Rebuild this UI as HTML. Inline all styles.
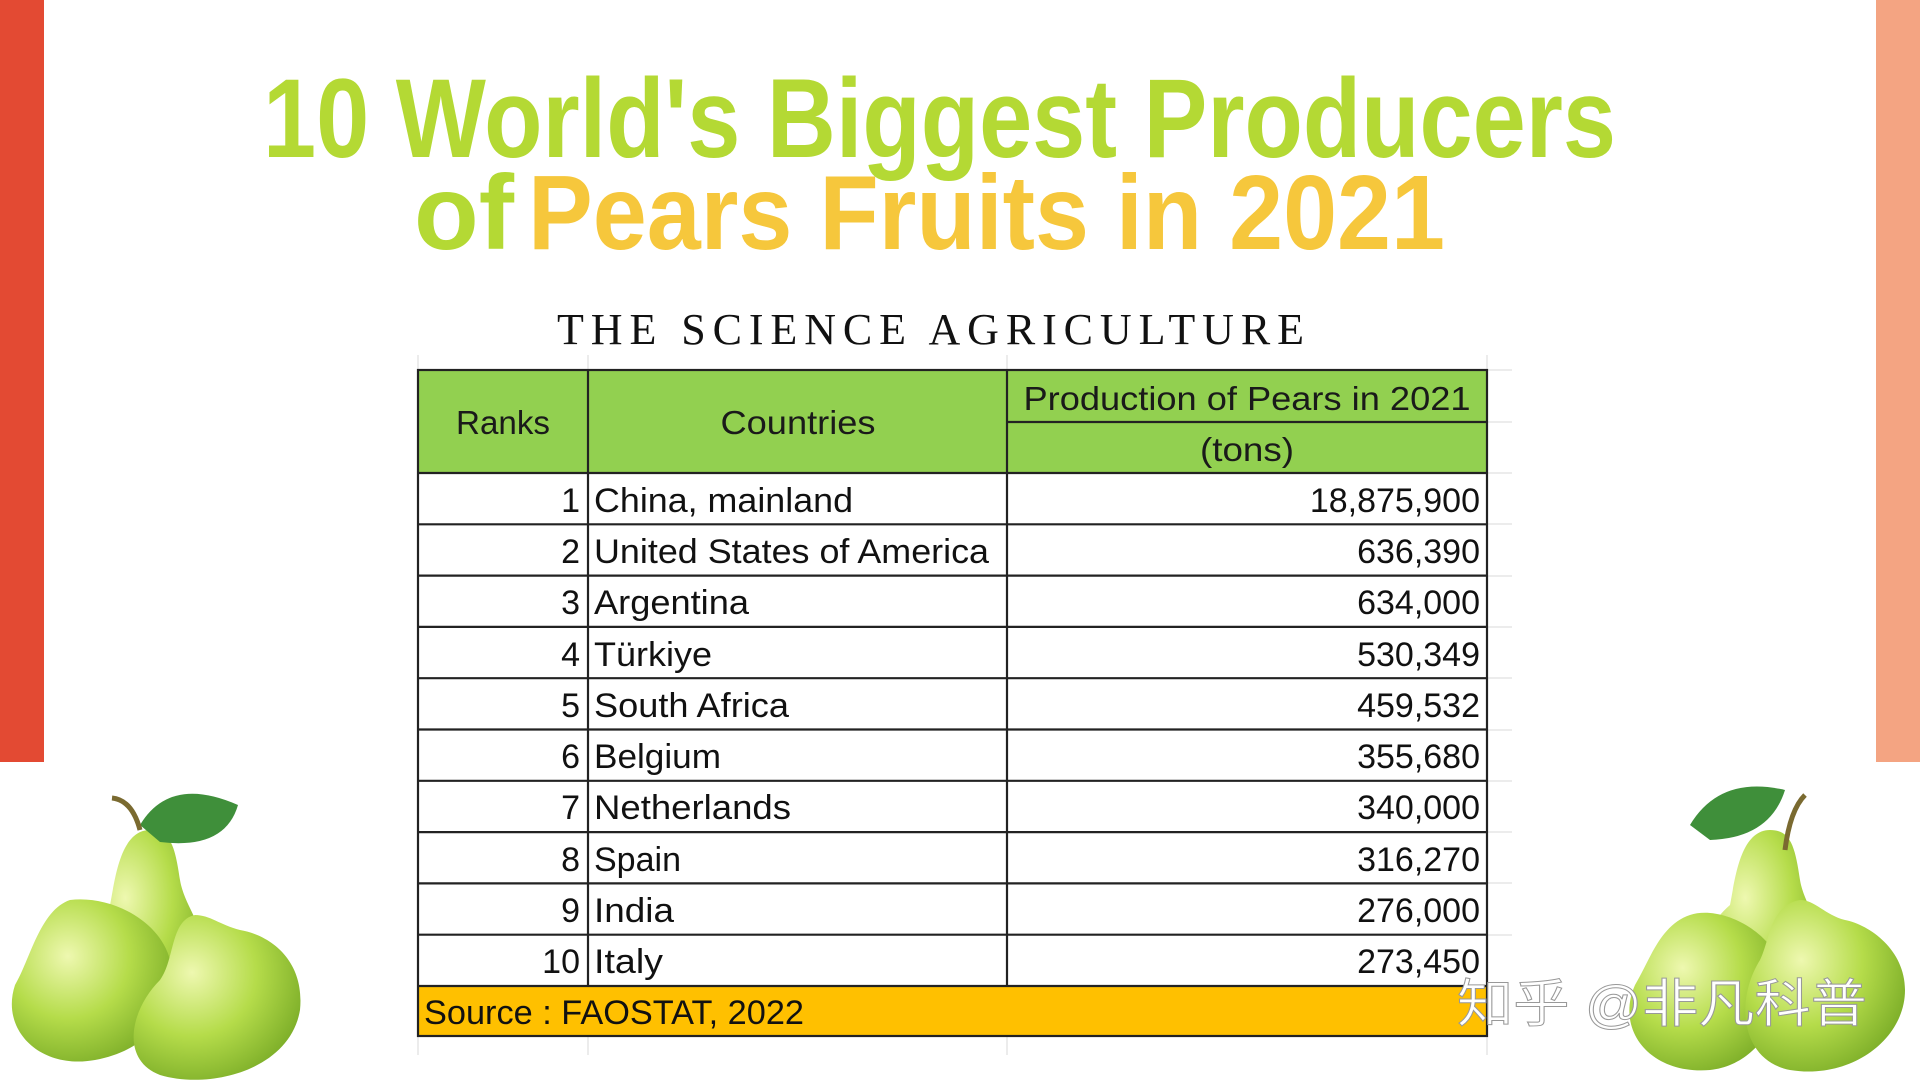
<!DOCTYPE html>
<html><head><meta charset="utf-8"><style>
html,body{margin:0;padding:0;background:#fff;width:1920px;height:1080px;overflow:hidden}
svg{display:block}
</style></head><body>
<svg width="1920" height="1080" viewBox="0 0 1920 1080" xmlns="http://www.w3.org/2000/svg">
<defs>
<radialGradient id="pg" cx="0.35" cy="0.35" r="0.7">
<stop offset="0" stop-color="#eef8b0"/><stop offset="0.55" stop-color="#b5dc4a"/><stop offset="1" stop-color="#7fb02a"/>
</radialGradient>
</defs>
<rect x="0" y="0" width="44" height="762" fill="#e34a33"/>
<rect x="1876" y="0" width="44" height="762" fill="#f4a482"/>

<g font-family="Liberation Sans, sans-serif" font-weight="bold">
<text x="263" y="157" font-size="112" fill="#b4d934" textLength="1353" lengthAdjust="spacingAndGlyphs">10 World's Biggest Producers</text>
<text x="414" y="249" font-size="106" fill="#b4d934" textLength="100" lengthAdjust="spacingAndGlyphs">of</text>
<text x="528" y="249" font-size="106" fill="#f6c73c" textLength="917" lengthAdjust="spacingAndGlyphs">Pears Fruits in 2021</text>
</g>
<text x="557" y="344" font-family="Liberation Serif, serif" font-size="44" fill="#111" textLength="747" lengthAdjust="spacing">THE SCIENCE AGRICULTURE</text>

<!-- faint grid -->
<g stroke="#e6e6e6" stroke-width="1.5">
<line x1="418" y1="355" x2="418" y2="1055"/><line x1="588" y1="355" x2="588" y2="1055"/><line x1="1007" y1="355" x2="1007" y2="1055"/><line x1="1487" y1="355" x2="1487" y2="1055"/>
<line x1="418" y1="370" x2="1512" y2="370"/><line x1="1487" y1="422" x2="1512" y2="422"/>
<line x1="1487" y1="473" x2="1512" y2="473"/><line x1="1487" y1="524" x2="1512" y2="524"/><line x1="1487" y1="576" x2="1512" y2="576"/><line x1="1487" y1="627" x2="1512" y2="627"/><line x1="1487" y1="678" x2="1512" y2="678"/><line x1="1487" y1="730" x2="1512" y2="730"/><line x1="1487" y1="781" x2="1512" y2="781"/><line x1="1487" y1="832" x2="1512" y2="832"/><line x1="1487" y1="883" x2="1512" y2="883"/><line x1="1487" y1="935" x2="1512" y2="935"/>
</g>
<rect x="418" y="370" width="1069" height="103" fill="#92d050"/>
<rect x="418" y="986" width="1069" height="50" fill="#ffc000"/>
<g stroke="#222" stroke-width="2.2" fill="none">
<rect x="418" y="370" width="1069" height="666"/>
<line x1="588" y1="370" x2="588" y2="986"/>
<line x1="1007" y1="370" x2="1007" y2="986"/>
<line x1="1007" y1="422" x2="1487" y2="422"/>
<line x1="418" y1="473" x2="1487" y2="473"/>
<line x1="418" y1="524.3" x2="1487" y2="524.3"/>
<line x1="418" y1="575.6" x2="1487" y2="575.6"/>
<line x1="418" y1="626.9" x2="1487" y2="626.9"/>
<line x1="418" y1="678.2" x2="1487" y2="678.2"/>
<line x1="418" y1="729.5" x2="1487" y2="729.5"/>
<line x1="418" y1="780.8" x2="1487" y2="780.8"/>
<line x1="418" y1="832.1" x2="1487" y2="832.1"/>
<line x1="418" y1="883.4" x2="1487" y2="883.4"/>
<line x1="418" y1="934.7" x2="1487" y2="934.7"/>
<line x1="418" y1="986" x2="1487" y2="986"/>
</g>
<g font-family="Liberation Sans, sans-serif" font-size="33" fill="#1a1a1a">
<text x="503" y="434" text-anchor="middle" textLength="94" lengthAdjust="spacingAndGlyphs">Ranks</text>
<text x="798" y="434" text-anchor="middle" textLength="155" lengthAdjust="spacingAndGlyphs">Countries</text>
<text x="1247" y="410" text-anchor="middle" textLength="447" lengthAdjust="spacingAndGlyphs">Production of  Pears in 2021</text>
<text x="1247" y="461" text-anchor="middle" textLength="94" lengthAdjust="spacingAndGlyphs">(tons)</text>
</g>
<g font-family="Liberation Sans, sans-serif" font-size="34" fill="#111">
<g text-anchor="end">
<text x="580" y="512">1</text><text x="580" y="563">2</text><text x="580" y="614">3</text><text x="580" y="666">4</text><text x="580" y="717">5</text><text x="580" y="768">6</text><text x="580" y="819">7</text><text x="580" y="871">8</text><text x="580" y="922">9</text><text x="580" y="973">10</text>
<text x="1480" y="512">18,875,900</text><text x="1480" y="563">636,390</text><text x="1480" y="614">634,000</text><text x="1480" y="666">530,349</text><text x="1480" y="717">459,532</text><text x="1480" y="768">355,680</text><text x="1480" y="819">340,000</text><text x="1480" y="871">316,270</text><text x="1480" y="922">276,000</text><text x="1480" y="973">273,450</text>
</g>
<text x="594" y="512" textLength="259" lengthAdjust="spacingAndGlyphs">China, mainland</text>
<text x="594" y="563" textLength="395" lengthAdjust="spacingAndGlyphs">United States of America</text>
<text x="594" y="614" textLength="155" lengthAdjust="spacingAndGlyphs">Argentina</text>
<text x="594" y="666" textLength="118" lengthAdjust="spacingAndGlyphs">Türkiye</text>
<text x="594" y="717" textLength="195" lengthAdjust="spacingAndGlyphs">South Africa</text>
<text x="594" y="768" textLength="127" lengthAdjust="spacingAndGlyphs">Belgium</text>
<text x="594" y="819" textLength="197" lengthAdjust="spacingAndGlyphs">Netherlands</text>
<text x="594" y="871" textLength="87" lengthAdjust="spacingAndGlyphs">Spain</text>
<text x="594" y="922" textLength="80" lengthAdjust="spacingAndGlyphs">India</text>
<text x="594" y="973" textLength="69" lengthAdjust="spacingAndGlyphs">Italy</text>
<text x="424" y="1024" textLength="380" lengthAdjust="spacingAndGlyphs">Source : FAOSTAT, 2022</text>
</g>

<!-- left pears -->
<g>
<path d="M150 830 C120 830 115 880 110 905 C80 930 70 980 100 1010 C140 1040 200 1020 205 970 C210 930 185 910 180 880 C175 845 170 830 150 830 Z" fill="url(#pg)"/>
<path d="M70 900 C40 910 30 960 15 985 C0 1030 40 1070 95 1060 C150 1050 180 1010 170 960 C160 920 110 895 70 900 Z" fill="url(#pg)"/>
<path d="M195 915 C170 920 175 960 160 980 C130 1010 120 1060 160 1075 C210 1090 290 1070 300 1010 C305 960 270 935 240 930 C220 925 210 915 195 915 Z" fill="url(#pg)"/>
<path d="M140 825 Q170 775 238 805 Q225 850 160 842 Z" fill="#3f8f3a"/>
<path d="M140 830 Q132 800 112 798" stroke="#7a6a30" stroke-width="5" fill="none"/>
</g>
<!-- right pears -->
<g>
<path d="M1770 830 C1740 830 1735 880 1730 905 C1700 930 1690 980 1720 1010 C1760 1040 1820 1020 1825 970 C1830 930 1805 910 1800 880 C1795 845 1790 830 1770 830 Z" fill="url(#pg)"/>
<path d="M1690 915 C1660 925 1650 960 1635 985 C1615 1030 1650 1075 1710 1070 C1760 1065 1790 1010 1780 965 C1770 930 1720 905 1690 915 Z" fill="url(#pg)"/>
<path d="M1800 900 C1770 905 1770 940 1760 960 C1735 1000 1740 1060 1790 1070 C1850 1080 1905 1040 1905 990 C1905 950 1870 925 1845 920 C1825 915 1815 900 1800 900 Z" fill="url(#pg)"/>
<path d="M1690 825 Q1720 775 1785 790 Q1770 838 1710 840 Z" fill="#3f8f3a"/>
<path d="M1785 850 Q1790 810 1805 795" stroke="#7a6a30" stroke-width="5" fill="none"/>
</g>
<text x="1457" y="1022" font-family="Liberation Sans, 'Noto Sans CJK SC', sans-serif" font-size="52" fill="#ffffff" stroke="#999" stroke-width="1" textLength="410" lengthAdjust="spacingAndGlyphs">知乎 @非凡科普</text>
</svg>
</body></html>
